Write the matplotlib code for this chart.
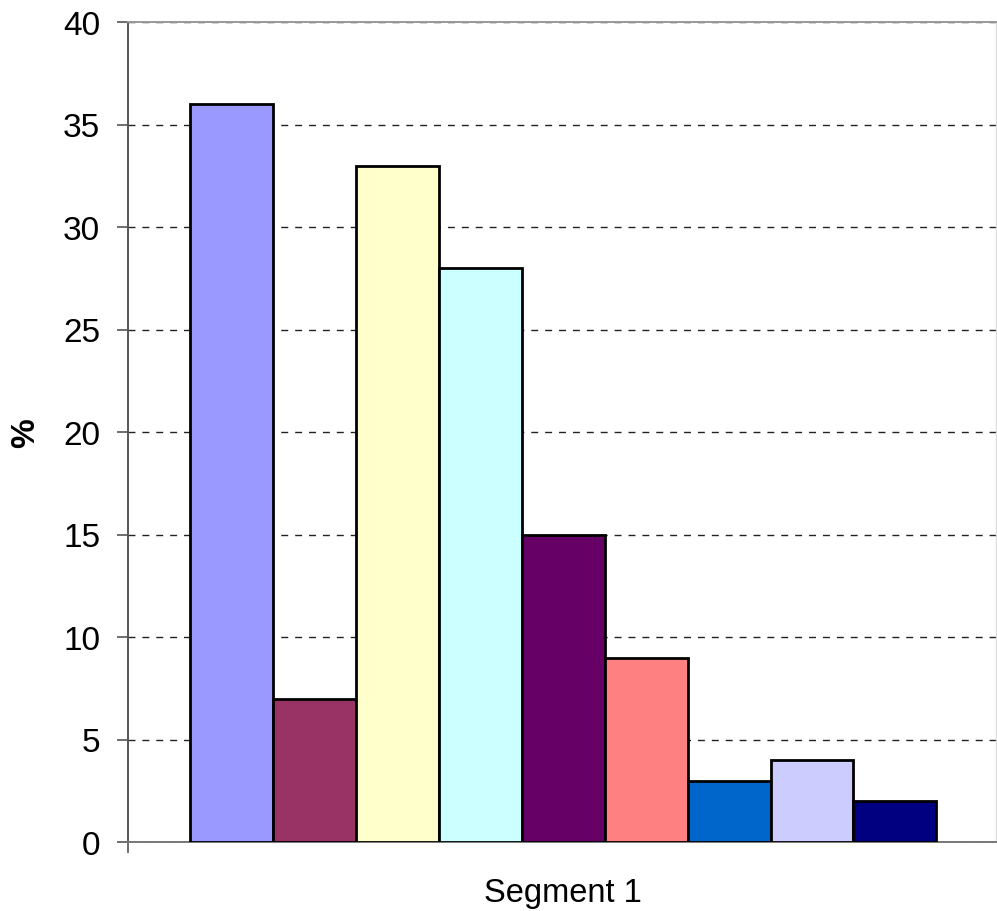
import matplotlib
matplotlib.use("Agg")
import matplotlib.pyplot as plt

# Share of respondents per answer, single segment
values = [36, 7, 33, 28, 15, 9, 3, 4, 2]
colors = ["#9999FF", "#993366", "#FFFFCC", "#CCFFFF", "#660066",
          "#FF8080", "#0066CC", "#CCCCFF", "#000080"]
category = "Segment 1"
y_ticks = [0, 5, 10, 15, 20, 25, 30, 35, 40]

plt.rcParams["font.family"] = ["Liberation Sans", "DejaVu Sans"]

fig = plt.figure(figsize=(9.97, 9.12), dpi=100)
ax = fig.add_axes([128 / 997, 69 / 912, 868 / 997, 820 / 912])

positions = list(range(len(values)))
ax.bar(positions, values, width=1.0, color=colors, edgecolor="black",
       linewidth=2.0, zorder=3)

ax.set_xlim(-1.25, len(values) - 0.5 + 0.72)
ax.set_ylim(0, 40)
ax.set_yticks(y_ticks)
ax.set_yticklabels([str(t) for t in y_ticks], fontsize=24)
ax.tick_params(axis="y", direction="out", length=8, width=1.2, color="#555555", pad=12)

# one category: label centred, boundary tick at the left edge
ax.set_xticks([-1.25], minor=True)
ax.set_xticks([(len(values) - 1) / 2])
ax.set_xticklabels([category], fontsize=23.5)
ax.tick_params(axis="x", which="major", length=0, pad=25)
ax.tick_params(axis="x", which="minor", direction="out", length=8, width=1.2, color="#555555")

ax.set_ylabel("%", fontsize=24, fontweight="bold", labelpad=16)

ax.yaxis.grid(True, linestyle=(0, (5, 5)), color="#222222", linewidth=1.0, zorder=0)
ax.set_axisbelow(True)

ax.spines["left"].set_color("#555555")
ax.spines["left"].set_linewidth(1.4)
ax.spines["bottom"].set_color("#777777")
ax.spines["bottom"].set_linewidth(1.4)
ax.spines["top"].set_color("#999999")
ax.spines["top"].set_linewidth(1.4)
ax.spines["right"].set_color("#dddddd")
ax.spines["right"].set_linewidth(1.0)

fig.savefig("out.png", dpi=100)
